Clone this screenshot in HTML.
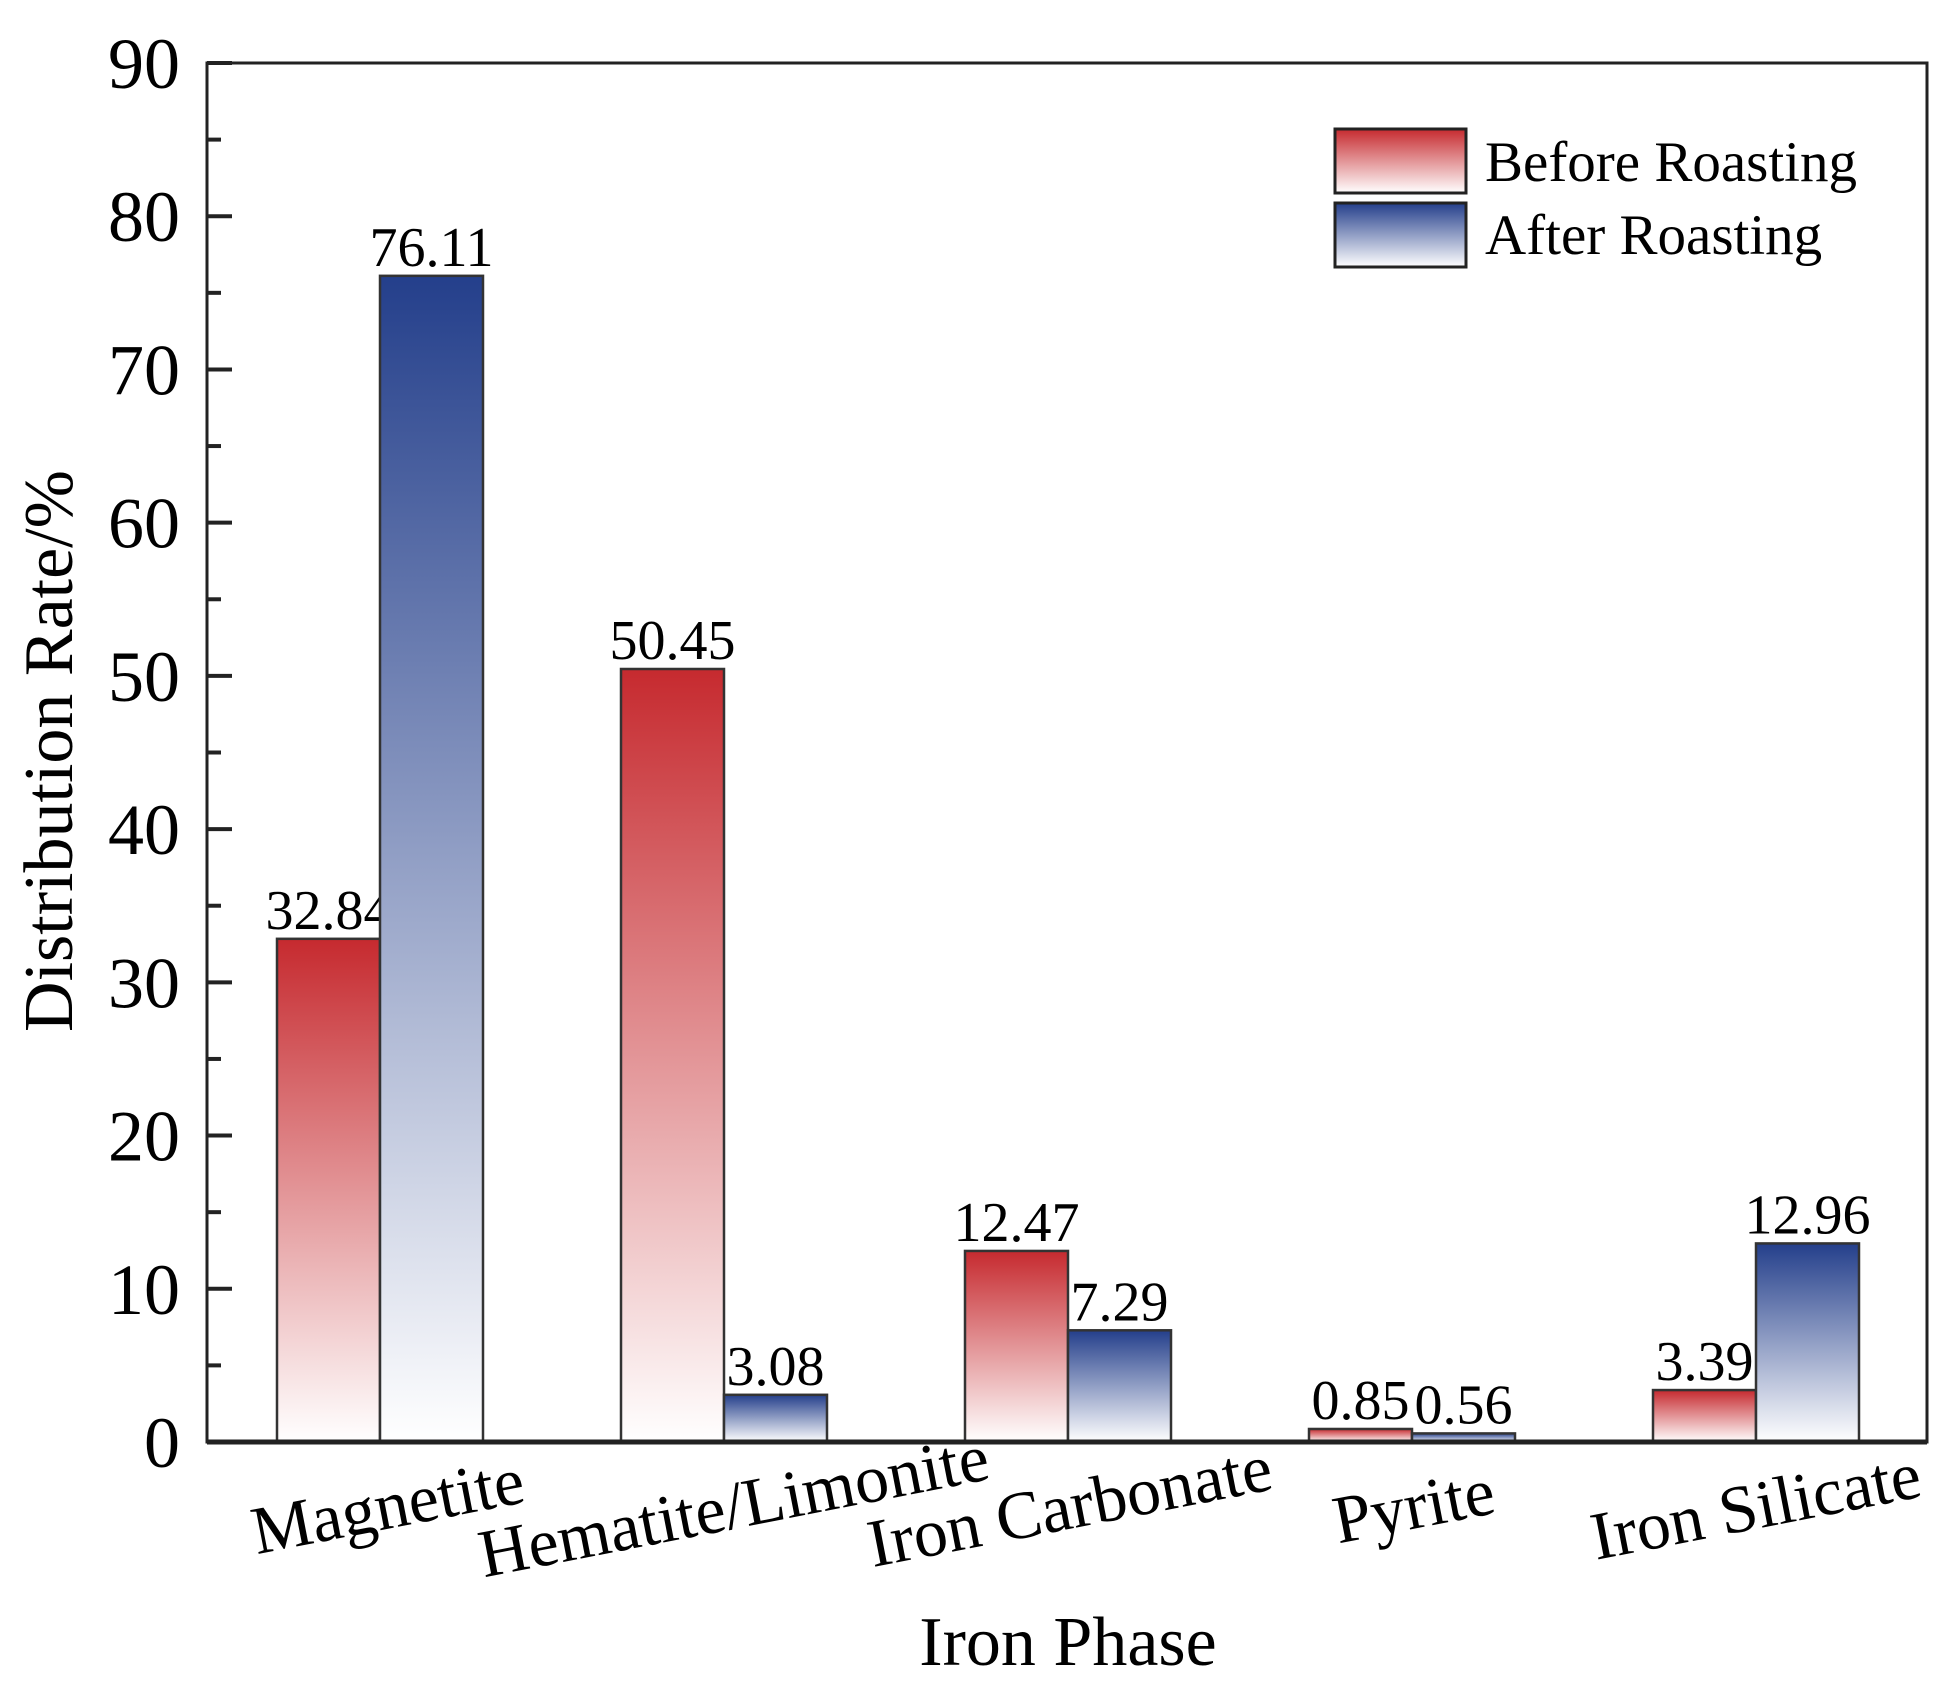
<!DOCTYPE html>
<html><head><meta charset="utf-8"><style>
html,body{margin:0;padding:0;background:#fff;}
svg{display:block;font-family:"Liberation Serif",serif;}
</style></head><body>
<svg id="chart" width="1952" height="1692" viewBox="0 0 1952 1692">
<defs>
<linearGradient id="gr" x1="0" y1="0" x2="0" y2="1"><stop offset="0" stop-color="#c62a2f"/><stop offset="1" stop-color="#ffffff"/></linearGradient>
<linearGradient id="gb" x1="0" y1="0" x2="0" y2="1"><stop offset="0" stop-color="#243f8b"/><stop offset="1" stop-color="#ffffff"/></linearGradient>
</defs>
<g id="marks"></g>
<rect x="207" y="63" width="1720" height="1379" fill="none" stroke="#222" stroke-width="3"/>
<line x1="207" y1="1442" x2="1927" y2="1442" stroke="#222" stroke-width="5"/>
<g id="yaxis"></g>
<text x="56" y="751" font-size="70" text-anchor="middle" transform="rotate(-90 56 751)" dominant-baseline="middle">Distribution Rate/%</text>
<text x="1068" y="1665" font-size="70" text-anchor="middle">Iron Phase</text>
<g>
<rect x="1335" y="129" width="131" height="64" fill="url(#gr)" stroke="#222" stroke-width="3"/>
<text x="1485" y="181" font-size="57">Before Roasting</text>
<rect x="1335" y="203" width="131" height="64" fill="url(#gb)" stroke="#222" stroke-width="3"/>
<text x="1485" y="254" font-size="57">After Roasting</text>
</g>
</svg>
<script>
const categories=["Magnetite","Hematite/Limonite","Iron Carbonate","Pyrite","Iron Silicate"];
const before=[32.84,50.45,12.47,0.85,3.39];
const after=[76.11,3.08,7.29,0.56,12.96];
const yTicks=[0,10,20,30,40,50,60,70,80,90];
const NS="http://www.w3.org/2000/svg";
const y0=1442,yTop=63,yMax=90;
function ys(v){return y0-(v/yMax)*(y0-yTop);}
function xc(i){return 380+i*344;}
const bw=103;
const marks=document.getElementById('marks');
function mk(tag,attrs,parent){const e=document.createElementNS(NS,tag);for(const k in attrs)e.setAttribute(k,attrs[k]);parent.appendChild(e);return e;}
const labOff=[12,14,6,6,4];
categories.forEach((c,i)=>{
  [[before[i],-1,'url(#gr)','before'],[after[i],0,'url(#gb)','after']].forEach(([v,off,fill,s])=>{
    const x=xc(i)+off*bw, y=ys(v);
    const r=mk('rect',{x:x,y:y,width:bw,height:y0-y,fill:fill,stroke:'#333','stroke-width':2.5},marks);
    
    
    const t=mk('text',{x:x+bw/2,y:y-10,'font-size':56,'text-anchor':'middle'},marks);
    t.textContent=v.toFixed(2);
    
    
  });
  const cx=xc(i)+labOff[i], cy=1528;
  const t=mk('text',{x:cx,y:cy,'font-size':68,'text-anchor':'middle',transform:'rotate(-11 '+cx+' '+cy+')'},marks);
  t.textContent=c;
  
  
});
const ya=document.getElementById('yaxis');
yTicks.forEach(v=>{
  const y=ys(v);
  const l=mk('line',{x1:207,x2:232,y1:y,y2:y,stroke:'#222','stroke-width':4},ya);
  
  
  const t=mk('text',{x:180,y:y+25,'font-size':72,'text-anchor':'end'},ya);
  t.textContent=v;
  
  
  if(v<yMax){const ym=ys(v+5);
    const m=mk('line',{x1:207,x2:221,y1:ym,y2:ym,stroke:'#222','stroke-width':4},ya);
    
    }
});
</script>
</body></html>
